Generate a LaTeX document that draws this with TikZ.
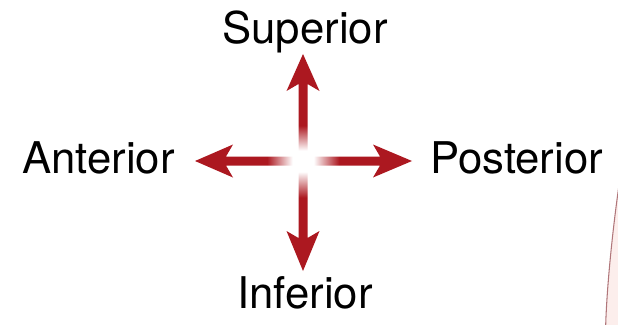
\documentclass[tikz,border=0pt]{standalone}
\usepackage{fontspec}
\setmainfont{TeX Gyre Heros}
\definecolor{armred}{RGB}{172,24,32}
\definecolor{edgeline}{RGB}{176,118,122}
\definecolor{edgefill}{RGB}{252,238,236}
\pgfdeclarehorizontalshading{armfade}{100bp}{color(0bp)=(white); color(29bp)=(white); color(41bp)=(armred); color(100bp)=(armred)}
\begin{document}
\begin{tikzpicture}[
	arm/.style={shading=armfade,draw=none},
	dirlabel/.style={anchor=base,font=\fontsize{37.3}{40}\selectfont,text=black,inner sep=0pt}
]
	\useasboundingbox (0,0) rectangle (18.54,9.72);

	\coordinate (o) at (9.09,4.89);

	\begin{scope}[shift={(o)}]
		% right
		\path[arm,shading angle=0] (0.06,-0.135) -- (2.31,-0.135) -- (2.10,-0.495) -- (3.27,0)
			-- (2.10,0.495) -- (2.31,0.135) -- (0.06,0.135) -- cycle;
		% left
		\path[arm,shading angle=180] (-0.06,-0.135) -- (-2.31,-0.135) -- (-2.10,-0.495) -- (-3.24,0)
			-- (-2.10,0.495) -- (-2.31,0.135) -- (-0.06,0.135) -- cycle;
		% up
		\path[arm,shading angle=90] (-0.135,0.06) -- (-0.135,2.31) -- (-0.495,2.10) -- (0,3.21)
			-- (0.495,2.10) -- (0.135,2.31) -- (0.135,0.06) -- cycle;
		% down
		\path[arm,shading angle=270] (-0.135,-0.06) -- (-0.135,-2.31) -- (-0.495,-2.10) -- (0,-3.30)
			-- (0.495,-2.10) -- (0.135,-2.31) -- (0.135,-0.06) -- cycle;
	\end{scope}

	\node[dirlabel] at (9.15,8.43) (sup) {Superior};
	\node[dirlabel] at (2.955,4.53) (ant) {Anterior};
	\node[dirlabel] at (15.495,4.53) (post) {Posterior};
	\node[dirlabel] at (9.15,0.48) (inf) {Inferior};

	% edge of the next figure
	\fill[edgefill] (18.56,4.1) .. controls (18.35,2.6) and (18.2,1.0) .. (18.17,-0.05) -- (18.56,-0.05) -- cycle;
	\draw[edgeline,line width=0.9pt] (18.56,4.1) .. controls (18.35,2.6) and (18.2,1.0) .. (18.17,-0.05);

\end{tikzpicture}
\end{document}
